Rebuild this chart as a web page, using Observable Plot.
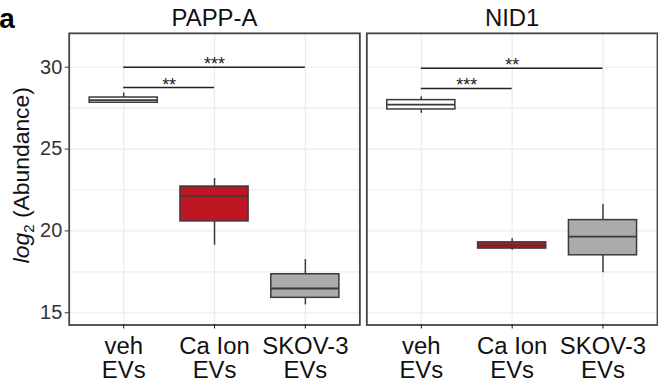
<!DOCTYPE html>
<html><head><meta charset="utf-8">
<script src="https://cdn.jsdelivr.net/npm/d3@7"></script>
<script src="https://cdn.jsdelivr.net/npm/@observablehq/plot@0.6"></script>
<style>
html,body{margin:0;padding:0;background:#fff;overflow:hidden;}
svg{display:block;}
</style></head><body><div id="chart"></div>
<script>
// ---- data ----
const panels = ["PAPP-A", "NID1"];
const categories = ["veh", "Ca Ion", "SKOV-3"];
const tickLabels = ["veh\nEVs", "Ca Ion\nEVs", "SKOV-3\nEVs"];
const fills = ["#FFFFFF", "#BE1622", "#ABABAB"];
// box statistics, one row per panel, one value per category
const whiskerLow  = [[27.83, 19.12, 15.48], [27.18, 18.82, 17.45]];
const q1          = [[27.83, 20.58, 15.91], [27.42, 18.92, 18.51]];
const median      = [[27.99, 22.14, 16.48], [27.71, 19.12, 19.65]];
const q3          = [[28.15, 22.71, 17.35], [27.99, 19.30, 20.66]];
const whiskerHigh = [[28.42, 23.20, 18.25], [28.19, 19.52, 21.61]];
// significance brackets
const sigPanel = ["PAPP-A", "PAPP-A", "NID1", "NID1"];
const sigFrom  = ["veh", "veh", "veh", "veh"];
const sigTo    = ["SKOV-3", "Ca Ion", "SKOV-3", "Ca Ion"];
const sigY     = [30.0, 28.76, 29.94, 28.70];
const sigLabel = ["***", "**", "**", "***"];
const yTicks = [15, 20, 25, 30];
const yGrid = [15, 17.5, 20, 22.5, 25, 27.5, 30];

// ---- tables ----
const BOX_W = 0.75;
const pos = c => categories.indexOf(c) + 1;
const boxes = [];
panels.forEach((p, pi) => categories.forEach((c, ci) => boxes.push({
  panel: p, cat: c, x: ci + 1, fill: fills[ci],
  lo: whiskerLow[pi][ci], q1: q1[pi][ci], med: median[pi][ci],
  q3: q3[pi][ci], hi: whiskerHigh[pi][ci]
})));
const sigs = sigPanel.map((p, i) => ({
  panel: p, x1: pos(sigFrom[i]), x2: pos(sigTo[i]),
  xm: (pos(sigFrom[i]) + pos(sigTo[i])) / 2, y: sigY[i], label: sigLabel[i]
}));

const outline = "#3a3a3a";
const plot = Plot.plot({
  width: 661, height: 387,
  marginLeft: 69, marginRight: 0, marginTop: 33, marginBottom: 61,
  style: {fontFamily: "'Liberation Sans', Arial, sans-serif", background: "#fff"},
  fx: {domain: panels, paddingInner: 0.0224, paddingOuter: 0, label: null},
  x: {domain: [0.4, 3.6]},
  y: {domain: [14.25, 32.07]},
  marks: [
    Plot.gridY(yGrid, {stroke: "#EBEBEB", strokeOpacity: 1, strokeWidth: 1.2}),
    Plot.gridX([1, 2, 3], {stroke: "#EBEBEB", strokeOpacity: 1, strokeWidth: 1.2}),
    Plot.ruleX(boxes, {fx: "panel", x: "x", y1: "lo", y2: "q1", stroke: outline, strokeWidth: 1.5}),
    Plot.ruleX(boxes, {fx: "panel", x: "x", y1: "q3", y2: "hi", stroke: outline, strokeWidth: 1.5}),
    Plot.rect(boxes, {fx: "panel", x1: d => d.x - BOX_W / 2, x2: d => d.x + BOX_W / 2,
      y1: "q1", y2: "q3", fill: "fill", stroke: outline, strokeWidth: 1.5}),
    Plot.ruleY(boxes, {fx: "panel", x1: d => d.x - BOX_W / 2, x2: d => d.x + BOX_W / 2,
      y: "med", stroke: outline, strokeWidth: 1.8}),
    Plot.ruleY(sigs, {fx: "panel", x1: "x1", x2: "x2", y: "y", stroke: "#222", strokeWidth: 1.6}),
    Plot.text(sigs, {fx: "panel", x: "xm", y: "y", text: "label", dy: 3, lineAnchor: "bottom",
      fontSize: 18, fill: "#222"}),
    Plot.frame({stroke: "#444", strokeWidth: 1.8}),
    Plot.axisFx({anchor: "top", tickSize: 0, tickPadding: 7, fontSize: 24, label: null, color: "#111"}),
    Plot.axisY({ticks: yTicks, anchor: "left", tickSize: 4, tickPadding: 3, fontSize: 20,
      label: null, color: "#333"}),
    Plot.axisX({ticks: [1, 2, 3], tickFormat: i => tickLabels[i - 1], anchor: "bottom",
      tickSize: 4, tickPadding: 7, fontSize: 24, lineHeight: 1.04, label: null, color: "#111"})
  ]
});
document.getElementById("chart").appendChild(plot);

const svg = d3.select(plot);
const yl = svg.append("text")
  .attr("transform", "translate(29,176) rotate(-90)")
  .attr("text-anchor", "middle")
  .attr("font-family", "'Liberation Sans', Arial, sans-serif")
  .attr("font-size", 23).attr("fill", "#111");
yl.append("tspan").attr("font-style", "italic").text("log");
yl.append("tspan").attr("font-size", 15).attr("dy", 5).text("2");
yl.append("tspan").attr("dy", -5).text(" (Abundance)");
svg.append("text").attr("x", 7).attr("y", 28)
  .attr("font-family", "'Liberation Sans', Arial, sans-serif")
  .attr("font-size", 28).attr("font-weight", "bold").attr("fill", "#000").text("a");
</script></body></html>
